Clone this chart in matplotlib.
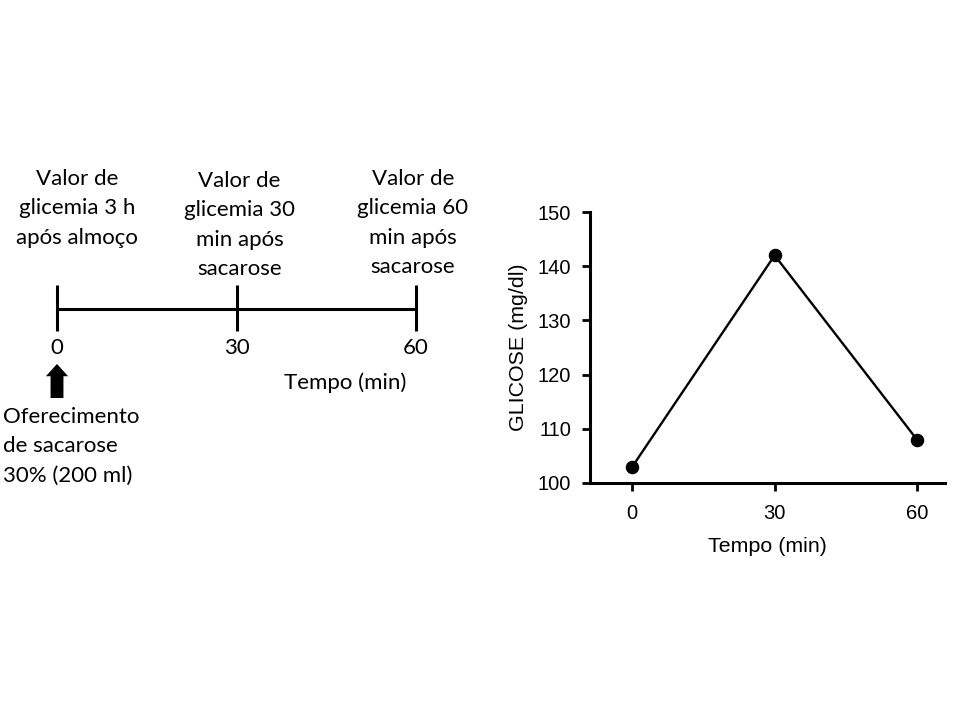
import matplotlib
matplotlib.use('Agg')
import numpy as np
import matplotlib.pyplot as plt

# timeline diagram
timeline_minutes = [0, 30, 60]
timeline_labels = ['0', '30', '60']
timeline_notes = [
    'Valor de\nglicemia 3 h\napós almoço',
    'Valor de\nglicemia 30\nmin após\nsacarose',
    'Valor de\nglicemia 60\nmin após\nsacarose',
]
offer_note = 'Oferecimento\nde sacarose\n30% (200 ml)'

# glucose curve
tempo = [0, 30, 60]
glicose = [103, 142, 108]
y_ticks = [100, 110, 120, 130, 140, 150]

fig = plt.figure(figsize=(9.6, 7.2), dpi=100)

# left: timeline, x in minutes, y in pixels from the top
W, H = 960, 720
ax_t = fig.add_axes([57 / W, 0, (416 - 57) / W, 1])
ax_t.set_xlim(0, 60)
ax_t.set_ylim(H, 0)
ax_t.axis('off')

tfont = dict(family=['Lato', 'DejaVu Sans'], fontsize=16, color='black')
ax_t.plot([timeline_minutes[0], timeline_minutes[-1]], [309, 309],
          color='black', lw=2.2, solid_capstyle='butt', clip_on=False)
for m, lab in zip(timeline_minutes, timeline_labels):
    ax_t.plot([m, m], [285, 331], color='black', lw=2.2,
              solid_capstyle='butt', clip_on=False)
    ax_t.text(m, 348, lab, ha='center', va='center', **tfont)

note_x = [3.4, 30.5, 59.5]
note_top = [169, 171, 169]
for x, y, note in zip(note_x, note_top, timeline_notes):
    ax_t.text(x, y, note, ha='center', va='top', linespacing=1.58, **tfont)

ax_t.text(48.2, 383, 'Tempo (min)', ha='center', va='center', **tfont)

# arrow: sucrose offered at time 0
ax_t.annotate('', xy=(timeline_minutes[0], 364), xytext=(timeline_minutes[0], 398),
              arrowprops=dict(arrowstyle='simple,head_length=0.55,head_width=1.0,tail_width=0.58',
                              mutation_scale=16, color='black', lw=0, shrinkA=0, shrinkB=0),
              annotation_clip=False)
ax_t.text(-9.05, 407, offer_note, ha='left', va='top', linespacing=1.58, **tfont)

# right: glucose chart
ax = fig.add_axes([590 / W, (H - 483) / H, 355 / W, 271 / H])
ax.plot(tempo, glicose, color='black', lw=1.7, marker='o', markersize=8.7)
ax.set_xlim(-8.9, 65.9)
ax.set_ylim(100, 150)
ax.set_xticks(tempo)
ax.set_yticks(y_ticks)
for s in ['top', 'right']:
    ax.spines[s].set_visible(False)
for s in ['left', 'bottom']:
    ax.spines[s].set_linewidth(2.2)
ax.tick_params(width=2.0, length=5.5, labelsize=14.5, direction='out')
ax.tick_params(axis='x', pad=9.5)
ax.tick_params(axis='y', pad=8)
for lbl in ax.get_xticklabels() + ax.get_yticklabels():
    lbl.set_family('Liberation Sans')
ax.set_xlabel('Tempo (min)', fontsize=15.4, family='Liberation Sans', labelpad=10)
ax.set_ylabel('GLICOSE (mg/dl)', fontsize=15.4, family='Liberation Sans', labelpad=7)

fig.savefig('out.png', dpi=100)
